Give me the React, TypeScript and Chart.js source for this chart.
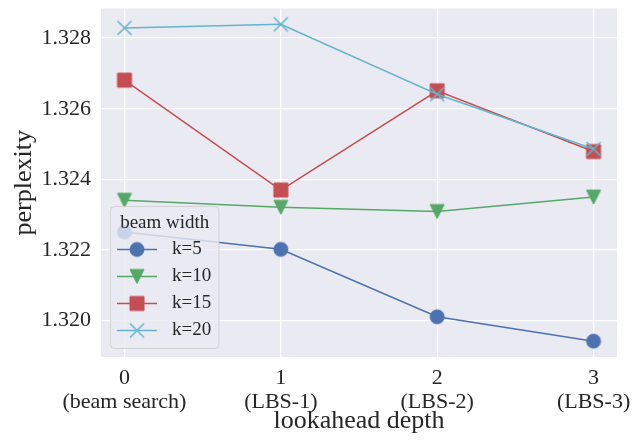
import React, { useEffect, useRef } from 'react';
import { Chart, registerables } from 'chart.js';

Chart.register(...registerables);

// ---- data ----
const depths = [0, 1, 2, 3];
const depthLabels = [
  ['0', '(beam search)'],
  ['1', '(LBS-1)'],
  ['2', '(LBS-2)'],
  ['3', '(LBS-3)'],
];
const yTicks = [1.32, 1.322, 1.324, 1.326, 1.328];
const seriesNames = ['k=5', 'k=10', 'k=15', 'k=20'];
const k5 = [1.32251, 1.32202, 1.32011, 1.31942];
const k10 = [1.32341, 1.32321, 1.32309, 1.3235];
const k15 = [1.32681, 1.3237, 1.32651, 1.32479];
const k20 = [1.32829, 1.32839, 1.32641, 1.32486];
const legendTitle = 'beam width';
const xTitle = 'lookahead depth';
const yTitle = 'perplexity';

const FONT = '"Liberation Serif", "Times New Roman", serif';
const TEXT = '#262626';
const COLORS = ['#4C72B0', '#55A868', '#C44E52', '#64B5CD'];
const MARKERS = ['o', 'v', 's', 'x'];

function makeMarker(kind: string, color: string): HTMLCanvasElement {
  const c = document.createElement('canvas');
  c.width = 20;
  c.height = 20;
  const g = c.getContext('2d')!;
  const cx = 10, cy = 10, h = 7;
  g.fillStyle = color;
  g.strokeStyle = color;
  g.lineWidth = 1;
  g.beginPath();
  if (kind === 'x') {
    g.lineWidth = 1.5;
    g.moveTo(cx - h, cy - h);
    g.lineTo(cx + h, cy + h);
    g.moveTo(cx + h, cy - h);
    g.lineTo(cx - h, cy + h);
    g.stroke();
    return c;
  }
  if (kind === 'o') g.arc(cx, cy, h, 0, Math.PI * 2);
  else if (kind === 'v') {
    g.moveTo(cx - h, cy - h);
    g.lineTo(cx + h, cy - h);
    g.lineTo(cx, cy + h);
    g.closePath();
  } else if (kind === 's') g.rect(cx - h, cy - h, 2 * h, 2 * h);
  g.fill();
  g.stroke();
  return c;
}

export default function App() {
  const ref = useRef<HTMLCanvasElement>(null);

  useEffect(() => {
    const canvas = ref.current!;
    const series = [k5, k10, k15, k20];
    const markerImgs = MARKERS.map((m, i) => makeMarker(m, COLORS[i]));

    const bgPlugin = {
      id: 'bg',
      beforeDraw(chart: any) {
        const { ctx, chartArea: a } = chart;
        ctx.save();
        ctx.fillStyle = '#EAEAF2';
        ctx.fillRect(a.left, a.top, a.right - a.left, a.bottom - a.top);
        ctx.restore();
      },
    };

    const legendPlugin = {
      id: 'mplLegend',
      afterDatasetsDraw(chart: any) {
        const ctx = chart.ctx;
        ctx.save();
        const x0 = 110.5, y0 = 206.5, w = 108.5, h = 142;
        ctx.beginPath();
        (ctx as any).roundRect(x0, y0, w, h, 4);
        ctx.fillStyle = 'rgba(234,234,242,0.8)';
        ctx.fill();
        ctx.strokeStyle = 'rgba(204,204,204,0.8)';
        ctx.lineWidth = 1;
        ctx.stroke();

        ctx.font = `19px ${FONT}`;
        ctx.fillStyle = TEXT;
        ctx.textAlign = 'center';
        ctx.textBaseline = 'middle';
        ctx.fillText(legendTitle, x0 + w / 2, 223);

        ctx.textAlign = 'left';
        seriesNames.forEach((name, i) => {
          const y = 249.5 + i * 27;
          ctx.beginPath();
          ctx.strokeStyle = COLORS[i];
          ctx.lineWidth = 1.5;
          ctx.moveTo(117, y);
          ctx.lineTo(157, y);
          ctx.stroke();
          ctx.drawImage(markerImgs[i], 137 - 10, y - 10);
          ctx.fillStyle = TEXT;
          ctx.fillText(name, 172, y);
        });
        ctx.restore();
      },
    };

    const chart = new Chart(canvas, {
      type: 'line',
      data: {
        datasets: series.map((vals, i) => ({
          label: seriesNames[i],
          data: vals.map((v, j) => ({ x: depths[j], y: v })),
          borderColor: COLORS[i],
          backgroundColor: COLORS[i],
          borderWidth: 1.5,
          pointStyle: markerImgs[i] as any,
          pointRadius: 7,
          pointHoverRadius: 7,
          fill: false,
          tension: 0,
          order: 3 - i,
        })),
      },
      options: {
        responsive: false,
        devicePixelRatio: 1,
        animation: false,
        events: [],
        layout: { padding: { top: 6, right: 25, left: 0, bottom: 0 } },
        plugins: {
          legend: { display: false },
          tooltip: { enabled: false },
        },
        scales: {
          x: {
            type: 'linear',
            min: -0.15,
            max: 3.15,
            afterBuildTicks: (s: any) => {
              s.ticks = depths.map((v) => ({ value: v }));
            },
            afterFit: (s: any) => {
              s.height = 83;
              s.paddingLeft = 0;
              s.paddingRight = 0;
              s.paddingTop = 0;
              s.paddingBottom = 0;
            },
            ticks: {
              callback: (_v: any, idx: number) => depthLabels[idx],
              font: { family: FONT, size: 22, lineHeight: 1.1 },
              color: TEXT,
              padding: 9,
              maxRotation: 0,
              autoSkip: false,
            },
            grid: { color: '#FFFFFF', lineWidth: 1.3, drawTicks: false },
            border: { display: false },
            title: {
              display: true,
              text: xTitle,
              color: TEXT,
              font: { family: FONT, size: 26, lineHeight: 1.2 },
              padding: { top: 0, bottom: 3 },
            },
          },
          y: {
            type: 'linear',
            min: 1.318972,
            max: 1.328839,
            afterBuildTicks: (s: any) => {
              s.ticks = yTicks.map((v) => ({ value: v }));
            },
            afterFit: (s: any) => {
              s.width = 101;
              s.paddingLeft = 0;
              s.paddingRight = 0;
              s.paddingTop = 0;
              s.paddingBottom = 0;
            },
            ticks: {
              callback: (v: any) => Number(v).toFixed(3),
              font: { family: FONT, size: 22 },
              color: TEXT,
              padding: 10,
            },
            grid: { color: '#FFFFFF', lineWidth: 1.3, drawTicks: false },
            border: { display: false },
            title: {
              display: true,
              text: yTitle,
              color: TEXT,
              font: { family: FONT, size: 26, lineHeight: 1.2 },
              padding: { top: 9, bottom: 0 },
            },
          },
        },
      },
      plugins: [bgPlugin, legendPlugin],
    } as any);

    return () => chart.destroy();
  }, []);

  return (
    <div style={{ position: 'absolute', left: 0, top: 0, width: 642, height: 440 }}>
      <canvas ref={ref} width={642} height={440} style={{ display: 'block', width: 642, height: 440 }} />
    </div>
  );
}
